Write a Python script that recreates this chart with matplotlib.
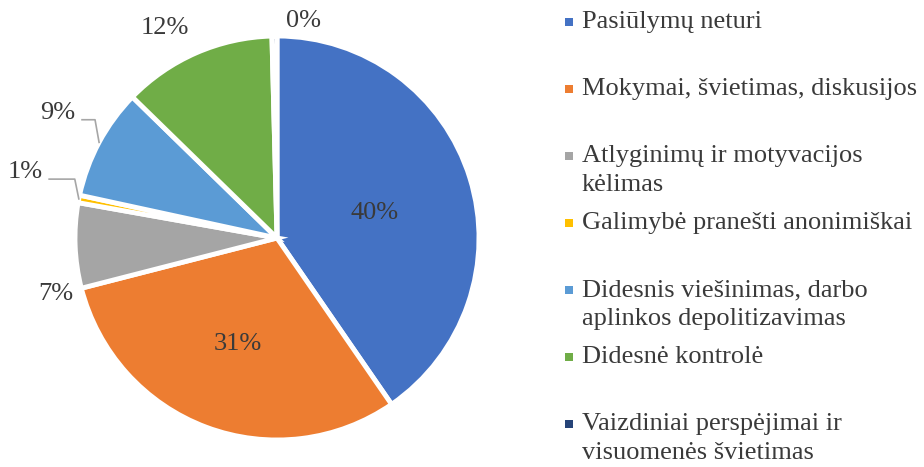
import numpy as np
import matplotlib
matplotlib.use('Agg')
import matplotlib.pyplot as plt
from matplotlib.patches import Rectangle

plt.rcParams['font.family'] = ['Liberation Serif', 'DejaVu Serif']

# duomenys
categories = [
    'Pasiūlymų neturi',
    'Mokymai, švietimas, diskusijos',
    'Atlyginimų ir motyvacijos\nkėlimas',
    'Galimybė pranešti anonimiškai',
    'Didesnis viešinimas, darbo\naplinkos depolitizavimas',
    'Didesnė kontrolė',
    'Vaizdiniai perspėjimai ir\nvisuomenės švietimas',
]
values = [40.4, 30.6, 6.8, 0.6, 8.9, 12.3, 0.4]
colors = ['#4472C4', '#ED7D31', '#A5A5A5', '#FFC000', '#5B9BD5', '#70AD47', '#264478']

# etikečių vietos: spindulys ir kampo poslinkis
label_r = [0.50, 0.56, 1.13, 1.29, 1.25, 1.18, 1.08]
label_dtheta = [-3, 0, 12, -3.5, -1.5, 4.4, -7.7]
leader = [False, False, False, True, True, False, False]

text_color = '#3A3A3A'
W, H = 924, 467
fig = plt.figure(figsize=(W / 100, H / 100), dpi=100)

# pyrago centras ~ (277, 238) px, spindulys 202 px
cx, cy, R = 277, 238, 202
ax = fig.add_axes([(cx - 1.1 * R) / W, (H - cy - 1.1 * R) / H, 2.2 * R / W, 2.2 * R / H])

wedges, _ = ax.pie(values, colors=colors, startangle=90, counterclock=False, radius=1.0,
                   wedgeprops=dict(edgecolor='white', linewidth=3.5))
ax.set_xlim(-1.1, 1.1)
ax.set_ylim(-1.1, 1.1)
ax.set_aspect('equal')
ax.axis('off')

for w, v, r, dt, ld in zip(wedges, values, label_r, label_dtheta, leader):
    mid = np.radians((w.theta1 + w.theta2) / 2)
    th = mid + np.radians(dt)
    tx, ty = r * np.cos(th), r * np.sin(th)
    ax.text(tx, ty, f'{v:.0f}%', ha='center', va='center', fontsize=19,
            color=text_color, clip_on=False)
    if ld:
        ex, ey = np.cos(mid), np.sin(mid)
        ax.plot([tx + 0.12, ex - 0.02, ex], [ty - 0.035, ty - 0.035, ey],
                color='#A6A6A6', lw=1.2, clip_on=False)

# legenda
leg_x = 569
leg_y0 = 22
leg_step = 67
for i, (lab, c) in enumerate(zip(categories, colors)):
    y = leg_y0 + i * leg_step
    fig.add_artist(Rectangle(((leg_x - 4) / W, 1 - (y + 4) / H), 8 / W, 8 / H,
                             transform=fig.transFigure, facecolor=c, edgecolor='none'))
    fig.text((leg_x + 13) / W, 1 - (y - 11) / H, lab, ha='left', va='top',
             fontsize=19, color=text_color, linespacing=1.42)

fig.savefig('out.png', dpi=100)
